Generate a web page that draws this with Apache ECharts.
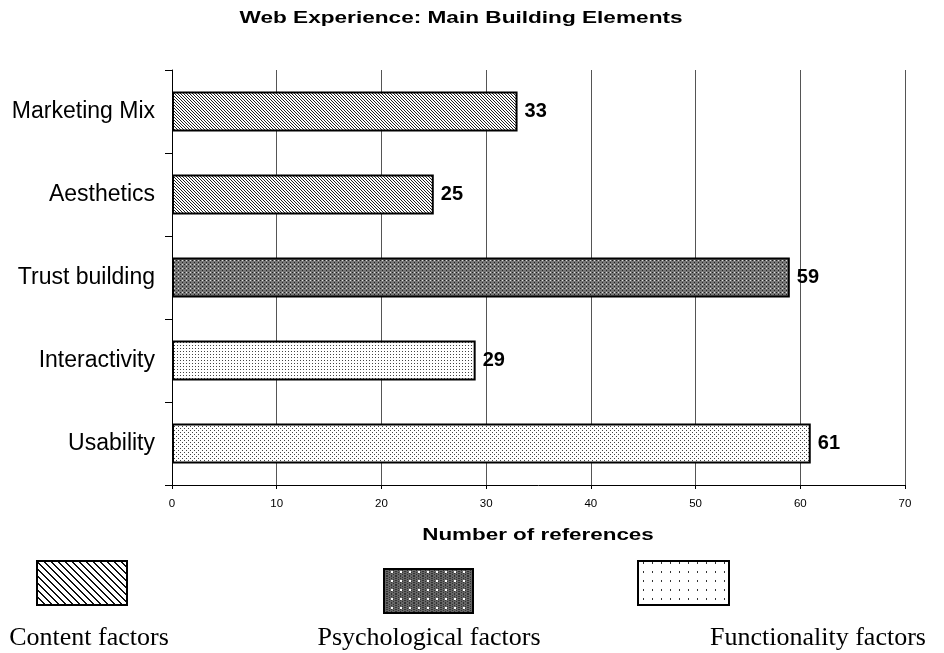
<!DOCTYPE html>
<html lang="en">
<head>
  <meta charset="UTF-8">
  <title>Web Experience</title>
  <script src="https://cdn.jsdelivr.net/npm/echarts@6/dist/echarts.min.js"></script>
  <style>
    html, body { margin: 0; padding: 0; background: #fff; }
  </style>
</head>
<body>
  <div id="app" style="width: 944px; height: 653px;"></div>
  <script>
    // data
    var categories = ['Marketing Mix', 'Aesthetics', 'Trust building', 'Interactivity', 'Usability']
    var values = [33, 25, 59, 29, 61]
    var groups = ['content', 'content', 'psych', 'func', 'func2']
    var legendNames = ['Content factors', 'Psychological factors', 'Functionality factors']
    var xTicks = [0, 70, 10]  // min, max, interval
    var titleText = 'Web Experience: Main Building Elements'
    var xName = 'Number of references'

    function tile(size, draw) {
      var c = document.createElement('canvas')
      c.width = size
      c.height = size
      var ctx = c.getContext('2d')
      draw(ctx, size)
      return { image: c, repeat: 'repeat' }
    }

    // bar fills
    var fills = {
      content: tile(3, function (ctx, s) {
        ctx.fillStyle = '#fff'; ctx.fillRect(0, 0, s, s)
        ctx.fillStyle = '#222'
        for (var i = 0; i < s; i++) ctx.fillRect(i, i, 1, 1)
      }),
      psych: tile(4, function (ctx, s) {
        ctx.fillStyle = '#777'; ctx.fillRect(0, 0, s, s)
        ctx.fillStyle = '#222'
        ctx.fillRect(0, 0, 1, 1); ctx.fillRect(2, 2, 1, 1)
        ctx.fillStyle = '#ddd'
        ctx.fillRect(2, 0, 1, 1)
      }),
      func: tile(3, function (ctx, s) {
        ctx.fillStyle = '#fff'; ctx.fillRect(0, 0, s, s)
        ctx.fillStyle = '#444'
        ctx.fillRect(0, 0, 1, 1)
      }),
      func2: tile(4, function (ctx, s) {
        ctx.fillStyle = '#fff'; ctx.fillRect(0, 0, s, s)
        ctx.fillStyle = '#444'
        ctx.fillRect(0, 0, 1, 1); ctx.fillRect(2, 2, 1, 1)
      })
    }

    // legend swatch fills (coarser)
    var swatches = [
      tile(7, function (ctx, s) {
        ctx.fillStyle = '#fff'; ctx.fillRect(0, 0, s, s)
        ctx.fillStyle = '#111'
        for (var i = 0; i < s; i++) {
          ctx.fillRect(i, i, 1, 1)
          ctx.fillRect((i + 1) % s, i, 1, 1)
        }
      }),
      tile(9, function (ctx, s) {
        ctx.fillStyle = '#666'; ctx.fillRect(0, 0, s, s)
        ctx.fillStyle = '#333'
        for (var i = 0; i < s; i += 2) for (var j = (i / 2) % 2; j < s; j += 2) ctx.fillRect(i, j, 1, 1)
        ctx.fillStyle = '#fff'
        ctx.fillRect(4, 4, 2, 2)
      }),
      tile(9, function (ctx, s) {
        ctx.fillStyle = '#fff'; ctx.fillRect(0, 0, s, s)
        ctx.fillStyle = '#333'
        ctx.fillRect(4, 4, 1, 2)
      })
    ]

    var seriesData = values.map(function (v, i) {
      return { value: v, itemStyle: { color: fills[groups[i]] } }
    })

    var sans = '"Liberation Sans", Arial, sans-serif'
    var legendPos = [
      { box: [37, 561, 90, 44], textX: 89, textY: 638 },
      { box: [384, 569, 89, 44], textX: 429, textY: 638 },
      { box: [638, 561, 91, 44], textX: 818, textY: 638 }
    ]
    var graphics = [
      // title and axis name are printed wide in the original
      {
        type: 'text', x: 461, y: 18, scaleX: 1.33,
        style: { text: titleText, font: 'bold 17px ' + sans, fill: '#000', align: 'center', verticalAlign: 'middle' }
      },
      {
        type: 'text', x: 538, y: 536, scaleX: 1.4,
        style: { text: xName, font: 'bold 16px ' + sans, fill: '#000', align: 'center', verticalAlign: 'middle' }
      }
    ]
    legendNames.forEach(function (name, i) {
      var p = legendPos[i]
      graphics.push({
        type: 'rect',
        shape: { x: p.box[0], y: p.box[1], width: p.box[2], height: p.box[3] },
        style: { fill: swatches[i], stroke: '#000', lineWidth: 2 }
      })
      graphics.push({
        type: 'text',
        x: p.textX,
        y: p.textY,
        style: {
          text: name,
          font: '26px "Liberation Serif", "Times New Roman", serif',
          fill: '#000',
          align: 'center',
          verticalAlign: 'middle'
        }
      })
    })

    var mCharts = echarts.init(document.querySelector('#app'))
    var option = {
      animation: false,
      grid: { left: 172, right: 39, top: 70, bottom: 168, containLabel: false },
      xAxis: {
        type: 'value',
        min: xTicks[0],
        max: xTicks[1],
        interval: xTicks[2],
        axisLine: { show: true, lineStyle: { color: '#000', width: 1 } },
        axisTick: { show: true, length: 4, lineStyle: { color: '#000' } },
        axisLabel: { fontFamily: sans, fontSize: 11.5, color: '#000', margin: 13 },
        splitLine: { show: true, lineStyle: { color: '#555', width: 1 } }
      },
      yAxis: {
        type: 'category',
        data: categories,
        inverse: true,
        axisLine: { show: true, lineStyle: { color: '#000', width: 1 } },
        axisTick: { show: true, length: 7, lineStyle: { color: '#000' } },
        axisLabel: { fontFamily: sans, fontSize: 23, color: '#000', margin: 17 },
        splitLine: { show: false }
      },
      series: [
        {
          type: 'bar',
          data: seriesData,
          barWidth: '48%',
          itemStyle: { borderColor: '#000', borderWidth: 2 },
          label: {
            show: true,
            position: 'right',
            distance: 7,
            fontFamily: sans,
            fontSize: 20,
            fontWeight: 'bold',
            color: '#000'
          }
        }
      ],
      graphic: graphics
    }
    mCharts.setOption(option)
  </script>
</body>
</html>
